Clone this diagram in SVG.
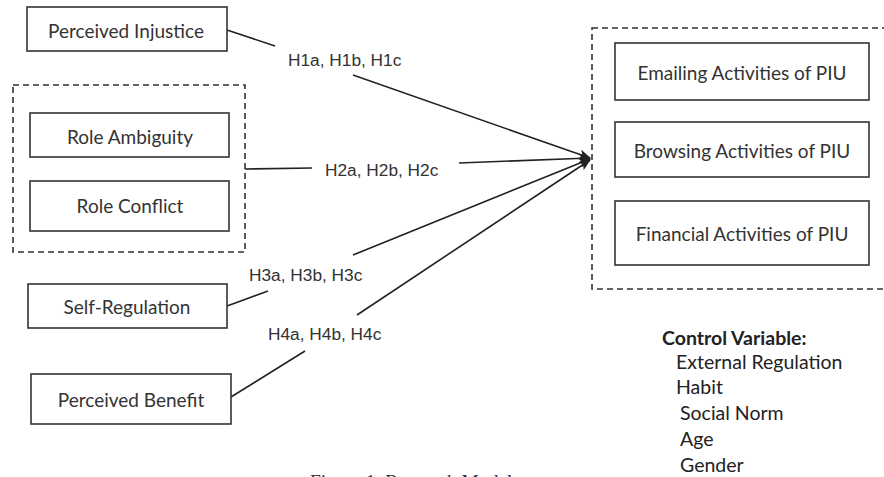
<svg xmlns="http://www.w3.org/2000/svg" width="884" height="477" viewBox="0 0 884 477">
<style>
.box{fill:#fff;stroke:#333;stroke-width:1.6}
.dash{fill:none;stroke:#333;stroke-width:1.6;stroke-dasharray:6,4}
.lbl{font-family:Lato,"Open Sans",sans-serif;font-size:19px;fill:#333;text-anchor:middle}
.hyp{font-family:"Liberation Sans",Arial,sans-serif;font-size:17.3px;fill:#333}
.cv{font-family:Lato,"Open Sans",sans-serif;font-size:19.5px;fill:#222}
.ln{fill:none;stroke:#222;stroke-width:1.6}
</style>
<defs>
<marker id="ah" viewBox="0 0 12 10" refX="11" refY="5" markerWidth="12" markerHeight="10" markerUnits="userSpaceOnUse" orient="auto">
<path d="M0,0 L12,5 L0,10 L3,5 Z" fill="#222"/>
</marker>
</defs>
<rect width="884" height="477" fill="#fff"/>
<g id="connectors">
<line class="ln" x1="227" y1="30" x2="275" y2="46"/>
<line class="ln" x1="353" y1="75" x2="590" y2="158" marker-end="url(#ah)"/>
<line class="ln" x1="245" y1="169" x2="312" y2="168"/>
<line class="ln" x1="459" y1="163" x2="590" y2="158" marker-end="url(#ah)"/>
<line class="ln" x1="227" y1="306" x2="268" y2="291"/>
<line class="ln" x1="353" y1="255" x2="590" y2="159" marker-end="url(#ah)"/>
<line class="ln" x1="231" y1="397" x2="305" y2="351"/>
<line class="ln" x1="357" y1="315" x2="590" y2="160" marker-end="url(#ah)"/>
<text class="hyp" x="288" y="66">H1a, H1b, H1c</text>
<text class="hyp" x="325" y="176">H2a, H2b, H2c</text>
<text class="hyp" x="249" y="281">H3a, H3b, H3c</text>
<text class="hyp" x="268" y="340">H4a, H4b, H4c</text>
</g>
<g id="perceived-injustice">
<rect class="box" x="27" y="7" width="200" height="44"/>
<text class="lbl" x="126" y="38">Perceived Injustice</text>
</g>
<g id="role-group">
<rect class="dash" x="13" y="85" width="232" height="167"/>
</g>
<g id="role-ambiguity">
<rect class="box" x="30" y="113" width="199" height="44"/>
<text class="lbl" x="130" y="144">Role Ambiguity</text>
</g>
<g id="role-conflict">
<rect class="box" x="30" y="181" width="199" height="50"/>
<text class="lbl" x="130" y="213">Role Conflict</text>
</g>
<g id="self-regulation">
<rect class="box" x="28" y="284" width="199" height="44"/>
<text class="lbl" x="127" y="314">Self-Regulation</text>
</g>
<g id="perceived-benefit">
<rect class="box" x="31" y="374" width="200" height="50"/>
<text class="lbl" x="131" y="407">Perceived Benefit</text>
</g>
<g id="piu-group">
<rect class="dash" x="592" y="28" width="320" height="261"/>
</g>
<g id="emailing">
<rect class="box" x="615" y="43" width="254" height="57"/>
<text class="lbl" x="742" y="80">Emailing Activities of PIU</text>
</g>
<g id="browsing">
<rect class="box" x="615" y="122" width="254" height="55"/>
<text class="lbl" x="742" y="158">Browsing Activities of PIU</text>
</g>
<g id="financial">
<rect class="box" x="615" y="201" width="254" height="64"/>
<text class="lbl" x="742" y="241">Financial Activities of PIU</text>
</g>
<g id="control-variables">
<text class="cv" x="662" y="345" font-weight="bold">Control Variable:</text>
<text class="cv" x="676" y="369">External Regulation</text>
<text class="cv" x="676" y="394">Habit</text>
<text class="cv" x="680" y="420">Social Norm</text>
<text class="cv" x="680" y="446">Age</text>
<text class="cv" x="680" y="472">Gender</text>
</g>
<text x="310" y="488" font-family="Liberation Serif,serif" font-size="19.5" fill="#333">Figure 1. Research Model</text>
</svg>
